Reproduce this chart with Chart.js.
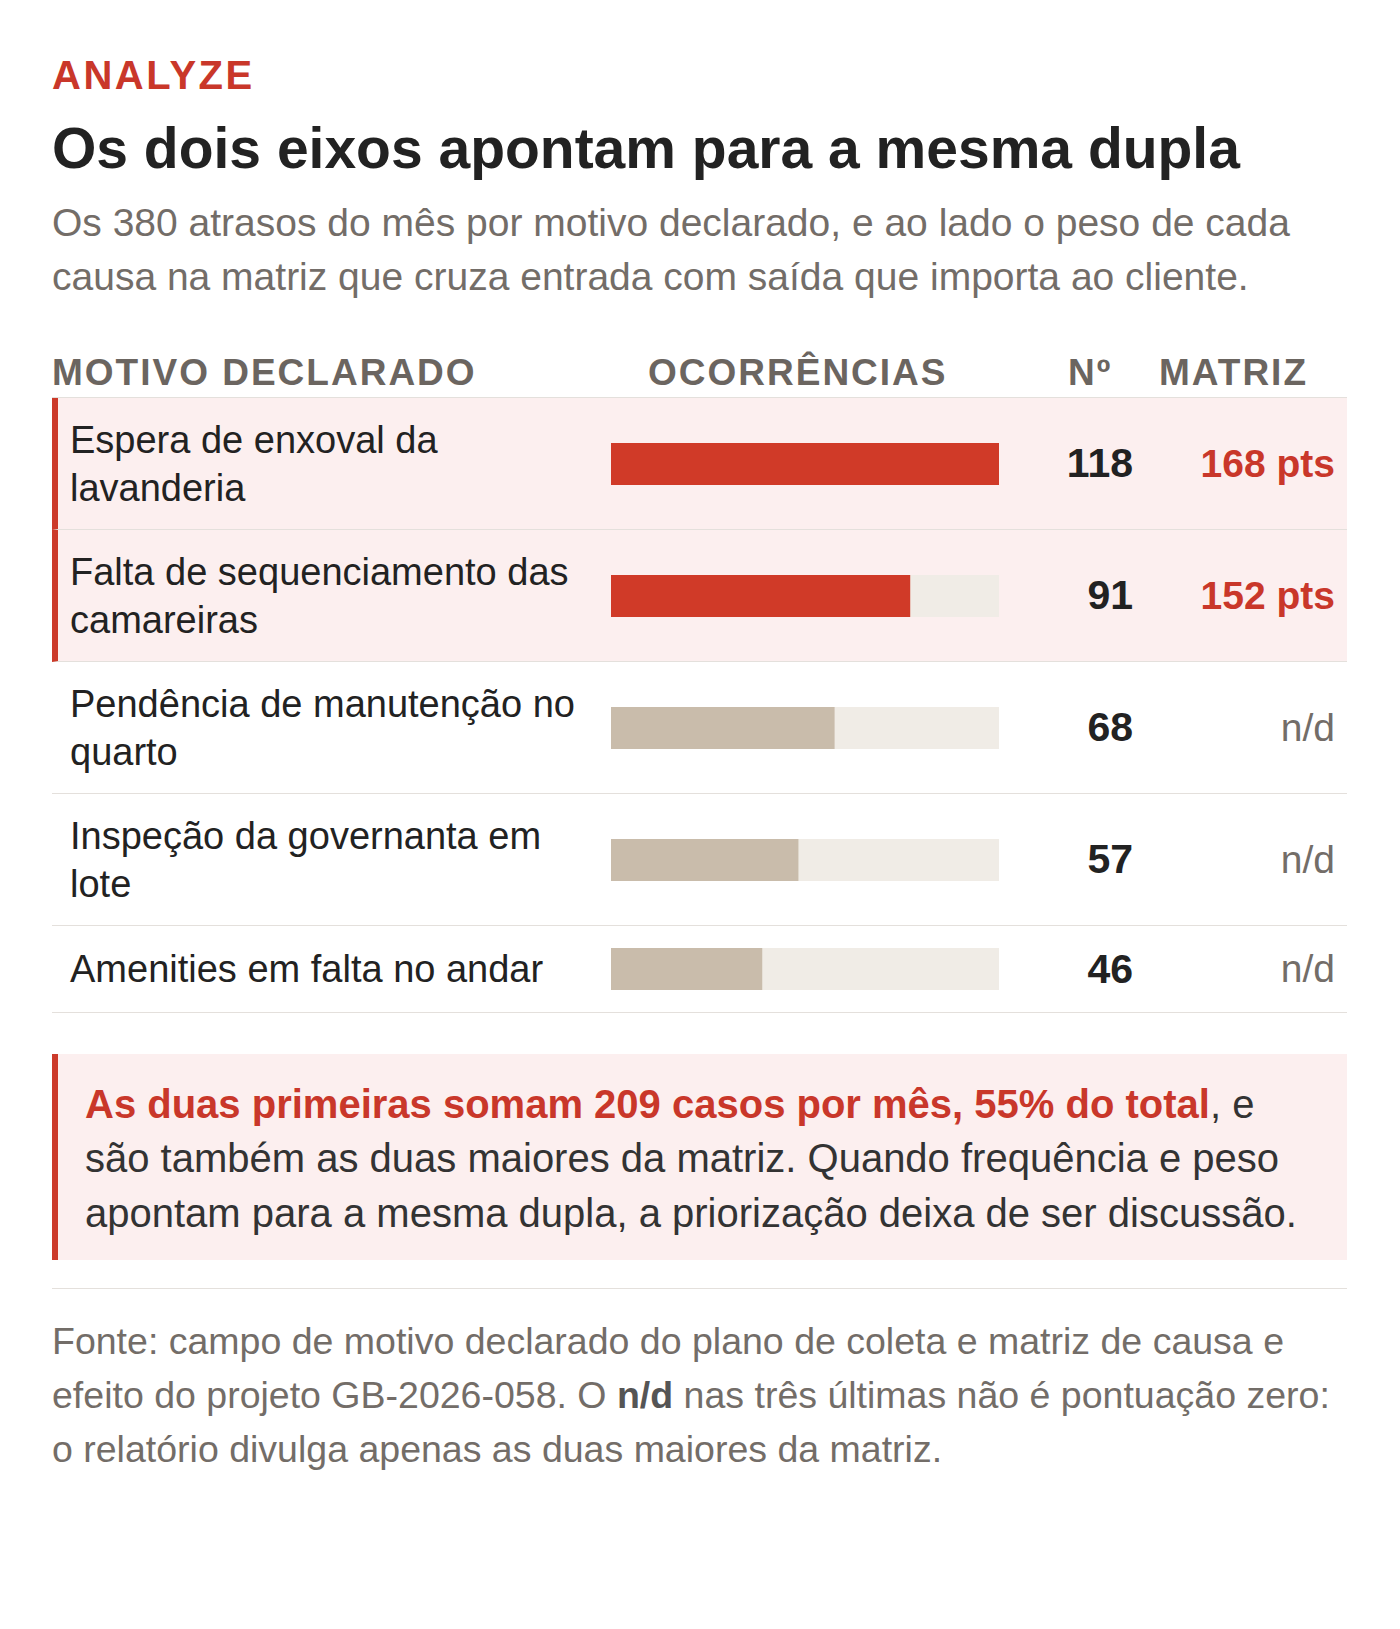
<!DOCTYPE html>
<html><head><meta charset="utf-8">
<script src="https://cdn.jsdelivr.net/npm/chart.js@4"></script>
<style>
body{margin:0;background:#fff;font-family:"Liberation Sans",Arial,sans-serif;color:#222;}
#wrap{position:relative;width:1295px;margin-left:52px;padding-top:53px;}
.kick{color:#c9372a;font-weight:bold;font-size:40px;letter-spacing:2.5px;line-height:44px;}
h1{margin:19px 0 0;font-size:57px;line-height:64px;color:#222;}
.sub{margin-top:16px;font-size:39px;line-height:54px;color:#736d68;}
.hdr{position:relative;margin-top:45px;font-weight:bold;font-size:37px;letter-spacing:2px;color:#6b6560;height:48px;line-height:48px;border-bottom:1px solid #e4e0dc;}
.hdr span{position:absolute;top:0;}
.row{display:flex;align-items:center;border-bottom:1px solid #e4e0dc;height:132px;box-sizing:border-box;}
.row.hi{background:#fcefef;border-left:6px solid #cc3a2a;}
.lab{width:559px;padding-left:18px;box-sizing:border-box;font-size:38px;line-height:48px;color:#222;}
.row.hi .lab{width:553px;padding-left:12px;}
.cv{width:388px;height:52px;position:relative;}
.num{width:134px;text-align:right;font-weight:bold;font-size:41px;}
.mat{width:202px;text-align:right;font-size:39px;color:#736d68;}
.mat.r{color:#c9372a;font-weight:bold;}
.box{margin-top:41px;background:#fcefef;border-left:6px solid #cc3a2a;padding:23px 30px 20px 27px;font-size:40px;line-height:54.3px;color:#333;}
.box b{color:#c9372a;}
.foot{margin-top:28px;border-top:1px solid #e4e0dc;padding-top:25px;font-size:37.5px;line-height:54px;color:#736d68;}
.foot b{color:#555;}
</style></head><body>
<div id="wrap">
<div class="kick">ANALYZE</div>
<h1>Os dois eixos apontam para a mesma dupla</h1>
<div class="sub">Os 380 atrasos do mês por motivo declarado, e ao lado o peso de cada causa na matriz que cruza entrada com saída que importa ao cliente.</div>
<div class="hdr"><span style="left:0">MOTIVO DECLARADO</span><span style="left:596px">OCORRÊNCIAS</span><span style="left:1016px">Nº</span><span style="left:1107px">MATRIZ</span></div>
<div id="rows"></div>
<div class="box"><b>As duas primeiras somam 209 casos por mês, 55% do total</b>, e são também as duas maiores da matriz. Quando frequência e peso apontam para a mesma dupla, a priorização deixa de ser discussão.</div>
<div class="foot">Fonte: campo de motivo declarado do plano de coleta e matriz de causa e efeito do projeto GB-2026-058. O <b>n/d</b> nas três últimas não é pontuação zero: o relatório divulga apenas as duas maiores da matriz.</div>
</div>
<script>
const categories=["Espera de enxoval da lavanderia","Falta de sequenciamento das camareiras","Pendência de manutenção no quarto","Inspeção da governanta em lote","Amenities em falta no andar"];
const occurrences=[118,91,68,57,46];
const matrixPts=[168,152,null,null,null];
const scaleMax=118;
const rows=document.getElementById('rows');
categories.forEach((c,i)=>{
  const hi=matrixPts[i]!==null;
  const r=document.createElement('div');
  r.className='row'+(hi?' hi':'');
  if(i===categories.length-1) r.style.height='87px';
  r.innerHTML=`<div class="lab">${c}</div><div class="cv"><canvas></canvas></div><div class="num">${occurrences[i]}</div><div class="mat${hi?' r':''}">${hi?matrixPts[i]+' pts':'n/d'}</div>`;
  rows.appendChild(r);
  new Chart(r.querySelector('canvas'),{type:'bar',
    data:{labels:[c],datasets:[
      {data:[occurrences[i]],backgroundColor:hi?'#d03a28':'#c9bcab',barPercentage:0.81,categoryPercentage:1,order:0},
      {data:[scaleMax],backgroundColor:'#f0ece6',barPercentage:0.81,categoryPercentage:1,order:1}]},
    options:{indexAxis:'y',responsive:true,maintainAspectRatio:false,animation:false,
      datasets:{bar:{grouped:false}},
      layout:{padding:0},
      plugins:{legend:{display:false},tooltip:{enabled:false}},
      scales:{x:{display:false,min:0,max:scaleMax},y:{display:false}}}});
});
</script>
</body></html>
